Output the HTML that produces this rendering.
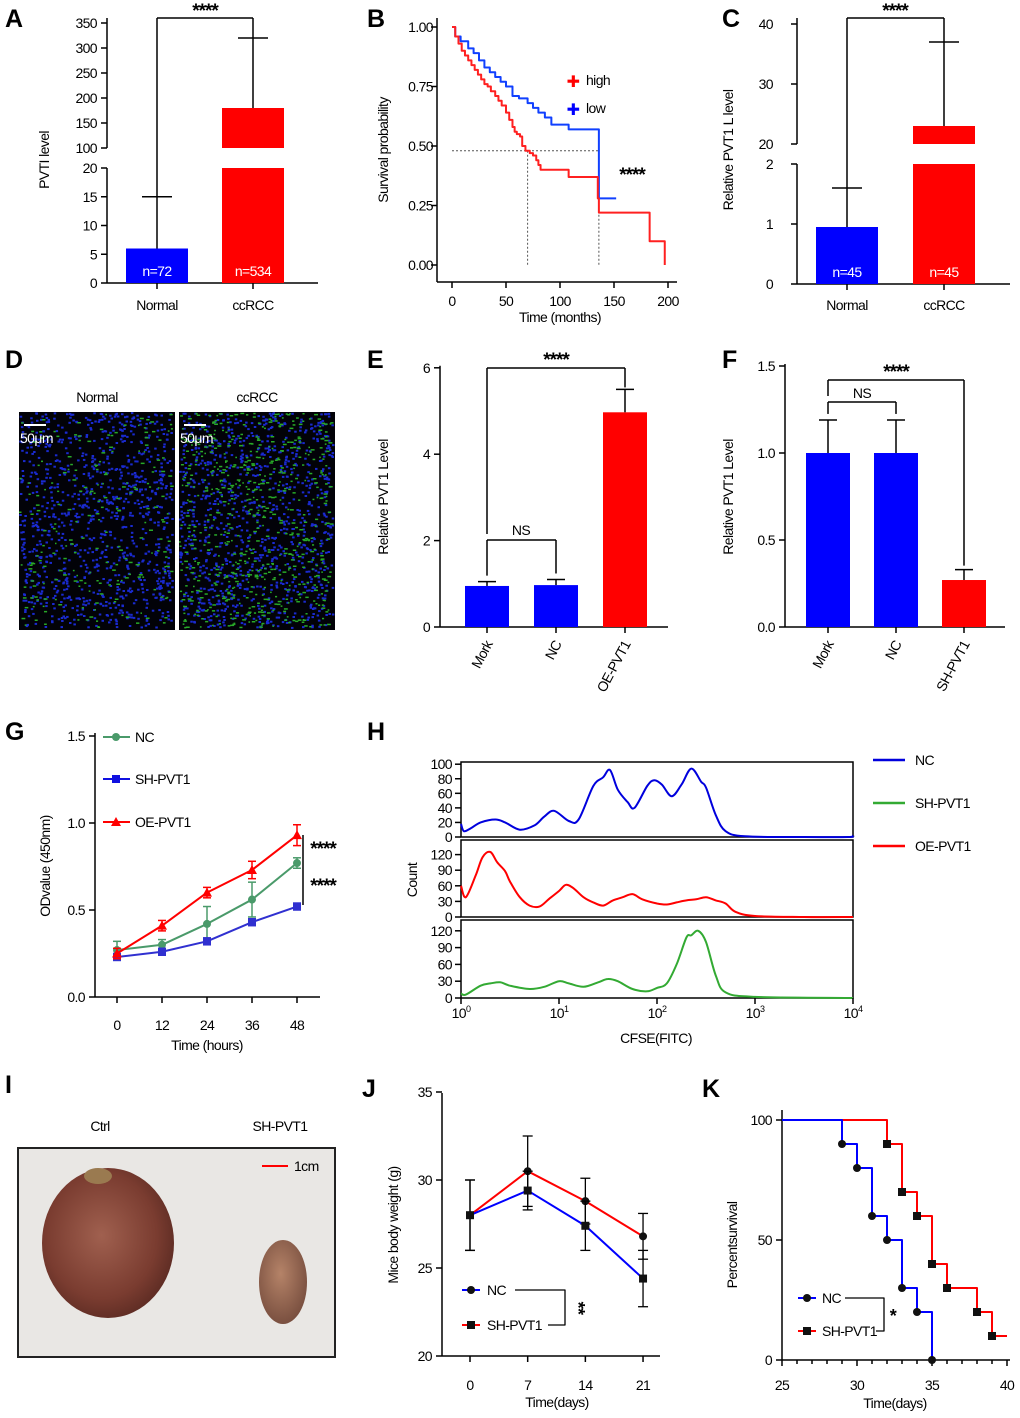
<!DOCTYPE html>
<html><head><meta charset="utf-8">
<style>
html,body{margin:0;padding:0;background:#fff;}
svg{display:block;font-family:"Liberation Sans",Arial,sans-serif;}
</style></head>
<body>
<svg id="fig" xmlns="http://www.w3.org/2000/svg" width="1020" height="1418" viewBox="0 0 1020 1418">
<defs>
<radialGradient id="tum1" cx="0.45" cy="0.45" r="0.6"><stop offset="0" stop-color="#a0604f"/><stop offset="0.7" stop-color="#7a3c30"/><stop offset="1" stop-color="#5a2a22"/></radialGradient>
<radialGradient id="tum2" cx="0.45" cy="0.4" r="0.6"><stop offset="0" stop-color="#b58368"/><stop offset="1" stop-color="#7a5040"/></radialGradient>
</defs>
</svg>
<script>
// ---------- DATA ----------
const aCats = ['Normal','ccRCC'];
const aVals = [6, 180];
const aErr = [15, 320];
const aN = ['n=72','n=534'];

const bHighT = [0,3,6,9,12,15,18,21,24,27,30,33,36,40,43,46,50,53,56,58,60,63,65,68,72,75,78,80,82,108,135,136,183,197];
const bHighS = [1,0.96,0.93,0.90,0.88,0.86,0.84,0.82,0.80,0.78,0.76,0.75,0.73,0.71,0.69,0.67,0.64,0.61,0.58,0.56,0.55,0.54,0.50,0.48,0.47,0.46,0.44,0.42,0.40,0.37,0.28,0.22,0.10,0.0];
const bLowT = [0,3,8,15,20,25,30,35,40,45,50,56,62,70,75,80,86,92,108,136,152];
const bLowS = [1,0.96,0.94,0.91,0.89,0.86,0.83,0.81,0.79,0.77,0.75,0.71,0.70,0.68,0.66,0.64,0.62,0.59,0.57,0.28,0.28];
const bTicksY = [0,0.25,0.5,0.75,1.0];
const bTicksX = [0,50,100,150,200];

const cCats = ['Normal','ccRCC'];
const cVals = [0.95, 23];
const cErr = [1.6, 37];
const cN = ['n=45','n=45'];

const eCats = ['Mork','NC','OE-PVT1'];
const eVals = [0.95, 0.97, 4.97];
const eErr = [1.05, 1.1, 5.5];
const eTicks = [0,2,4,6];

const fCats = ['Mork','NC','SH-PVT1'];
const fVals = [1.0, 1.0, 0.27];
const fErr = [1.19, 1.19, 0.33];
const fTicks = [0,0.5,1.0,1.5];

const gTimes = [0,12,24,36,48];
const gNC = [0.27,0.30,0.42,0.56,0.77];
const gNCe = [0.05,0.03,0.10,0.10,0.03];
const gSH = [0.23,0.26,0.32,0.43,0.52];
const gSHe = [0.02,0.02,0.02,0.02,0.02];
const gOE = [0.25,0.41,0.60,0.73,0.93];
const gOEe = [0.03,0.03,0.03,0.05,0.06];

const hBlueX = [0,0.03,0.1,0.2,0.35,0.45,0.6,0.75,0.85,0.95,1.1,1.2,1.35,1.45,1.52,1.6,1.7,1.77,1.9,1.97,2.05,2.15,2.25,2.35,2.45,2.5,2.6,2.7,2.9,3.5,3.95,4];
const hBlueY = [18,8,12,20,24,20,10,16,28,36,22,24,70,82,92,65,48,40,70,78,72,56,72,94,76,68,30,8,1,0,0,2];
const hRedX = [0,0.05,0.15,0.22,0.3,0.37,0.45,0.5,0.6,0.7,0.8,0.9,1.0,1.07,1.15,1.25,1.35,1.45,1.55,1.65,1.75,1.85,2.0,2.1,2.2,2.3,2.4,2.5,2.6,2.7,2.8,3.0,3.5,4];
const hRedY = [60,38,80,115,125,105,88,68,38,22,20,35,50,62,55,38,28,22,32,38,44,34,26,24,28,32,34,38,32,26,10,2,0,0];
const hGreenX = [0,0.05,0.2,0.3,0.4,0.5,0.7,0.85,1.0,1.1,1.25,1.4,1.5,1.6,1.75,1.9,2.0,2.1,2.2,2.3,2.35,2.42,2.5,2.6,2.7,3.0,4];
const hGreenY = [8,6,22,26,28,22,16,20,30,26,20,28,34,30,16,12,18,26,60,108,112,120,100,40,10,2,0];

const jDays = [0,7,14,21];
const jNC = [28.0,30.5,28.8,26.8];
const jNCe = [2.0,2.0,1.3,1.3];
const jSH = [28.0,29.4,27.4,24.4];
const jSHe = [2.0,1.1,1.4,1.6];

const kNCdays = [25,29,30,31,32,33,34,35];
const kNCsurv = [100,90,80,60,50,30,20,0];
const kSHdays = [25,32,33,34,35,36,38,39,40];
const kSHsurv = [100,90,70,60,40,30,20,10,10];

// ---------- HELPERS ----------
const NS='http://www.w3.org/2000/svg';
const svg=document.getElementById('fig');
function mk(tag, attrs, name){
  const el=document.createElementNS(NS,tag);
  for(const k in attrs) el.setAttribute(k,attrs[k]);
  
  
  svg.appendChild(el);
  return el;
}
function L(x1,y1,x2,y2,name,c,w,dash){
  const a={x1:x1,y1:y1,x2:x2,y2:y2,stroke:c||'#000','stroke-width':w||1.5};
  if(dash) a['stroke-dasharray']=dash;
  return mk('line',a,name);
}
function T(x,y,s,name,o){
  o=o||{};
  const a={x:x,y:y,'font-size':o.size||14,'text-anchor':o.anchor||'middle',fill:o.fill||'#000'};
  if(o.bold) a['font-weight']='bold';
  if(o.rot!==undefined) a.transform='rotate('+o.rot+' '+x+' '+y+')';
  a['letter-spacing']=o.ls!==undefined?o.ls:'-0.6';
  const el=mk('text',a,name);
  el.textContent=s;
  return el;
}
function S(x,y,name,rot){ return T(x,y+5,'****',name,{size:19,bold:true,ls:'-1',rot:rot}); }
function R(x,y,w,h,fill,name){ return mk('rect',{x:x,y:Math.min(y,y+h),width:w,height:Math.abs(h),fill:fill},name); }
function P(d,name,c,w,fill){ return mk('path',{d:d,stroke:c,'stroke-width':w||2,fill:fill||'none','stroke-linejoin':'round'},name); }
function smooth(pts){
  let d='M'+pts[0][0].toFixed(1)+','+pts[0][1].toFixed(1);
  for(let i=0;i<pts.length-1;i++){
    const p0=pts[Math.max(0,i-1)],p1=pts[i],p2=pts[i+1],p3=pts[Math.min(pts.length-1,i+2)];
    const c1=[p1[0]+(p2[0]-p0[0])/6,p1[1]+(p2[1]-p0[1])/6];
    const c2=[p2[0]-(p3[0]-p1[0])/6,p2[1]-(p3[1]-p1[1])/6];
    d+=' C'+c1[0].toFixed(1)+','+c1[1].toFixed(1)+' '+c2[0].toFixed(1)+','+c2[1].toFixed(1)+' '+p2[0].toFixed(1)+','+p2[1].toFixed(1);
  }
  return d;
}
function errBar(cx,yTop,yBase,half,name){
  L(cx,yBase,cx,yTop,name,'#000',1.5);
  L(cx-half,yTop,cx+half,yTop,name+'-cap','#000',1.5);
}

// ---------- PANEL LETTERS ----------
[['A',5,27],['B',367,27],['C',722,27],['D',5,368],['E',367,368],['F',722,368],['G',5,740],['H',367,740],['I',5,1093],['J',362,1097],['K',702,1097]].forEach(p=>{
  T(p[1],p[2],p[0],'panel-label-'+p[0].toLowerCase(),{size:25,bold:true,anchor:'start',ls:0});
});

// ---------- PANEL A ----------
function yA(v){ return v<=20 ? 283 - v*5.75 : 148 - (v-100)*0.5; }
L(107,168,107,283,'a-y-axis-lower');
L(107,18,107,148,'a-y-axis-upper');
L(107,283,318,283,'a-x-axis');
[0,5,10,15,20].forEach(v=>{L(101,yA(v),107,yA(v),'a-y-tick');T(97,yA(v)+5,String(v),'a-y-tick-label',{anchor:'end'});});
[100,150,200,250,300,350].forEach(v=>{L(101,yA(v),107,yA(v),'a-y-tick');T(97,yA(v)+5,String(v),'a-y-tick-label',{anchor:'end'});});
T(49,160,'PVTI level','a-y-axis-title',{rot:-90});
const aX=[157,253];
aCats.forEach((c,i)=>{
  const col=i===0?'#0000ff':'#ff0000';
  const v=aVals[i];
  if(v<=20){ R(aX[i]-31,yA(v),62,yA(0)-yA(v),col,'a-bar-'+c.toLowerCase()); }
  else { R(aX[i]-31,yA(20),62,yA(0)-yA(20),col,'a-bar-'+c.toLowerCase()+'-lower'); R(aX[i]-31,yA(v),62,yA(100)-yA(v),col,'a-bar-'+c.toLowerCase()+'-upper'); }
  errBar(aX[i],yA(aErr[i]),yA(v),15,'a-error-'+c.toLowerCase());
  L(aX[i],283,aX[i],289,'a-x-tick');
  T(aX[i],310,c,'a-x-label');
  T(aX[i],276,aN[i],'a-n-label',{fill:'#fff'});
});
L(157,18,253,18,'a-sig-bracket');L(157,18,157,yA(aErr[0]),'a-sig-left');L(253,18,253,yA(aErr[1]),'a-sig-right');
S(205,12,'a-sig-stars');

// ---------- PANEL B ----------
function xB(t){ return 452 + t*1.08; }
function yB(s){ return 265 - s*238; }
L(437,18,437,282,'b-y-axis');L(437,282,677,282,'b-x-axis');
bTicksY.forEach(v=>{L(431,yB(v),437,yB(v),'b-y-tick');T(433,yB(v)+5,v.toFixed(2),'b-y-tick-label',{anchor:'end'});});
bTicksX.forEach(v=>{L(xB(v),282,xB(v),288,'b-x-tick');T(xB(v),306,String(v),'b-x-tick-label');});
T(560,322,'Time (months)','b-x-axis-title');
T(388,150,'Survival probability','b-y-axis-title',{rot:-90});
L(xB(0),yB(0.48),xB(136),yB(0.48),'b-median-line','#555',1,'2,2');
L(xB(70),yB(0.48),xB(70),yB(0),'b-median-high','#555',1,'2,2');
L(xB(136),yB(0.48),xB(136),yB(0),'b-median-low','#555',1,'2,2');
function km(ts,ss,xf,yf){ let d='M'+xf(ts[0])+','+yf(ss[0]); for(let i=1;i<ts.length;i++){ d+=' H'+xf(ts[i])+' V'+yf(ss[i]); } return d; }
P(km(bLowT,bLowS,xB,yB),'b-curve-low','#1040ff',2);
P(km(bHighT,bHighS,xB,yB),'b-curve-high','#ff2020',2);
T(573,87,'✚','b-legend-high-marker',{fill:'#ff0000',size:16});T(586,85,'high','b-legend-high',{anchor:'start'});
T(573,115,'✚','b-legend-low-marker',{fill:'#0000ff',size:16});T(586,113,'low','b-legend-low',{anchor:'start'});
S(632,176,'b-sig-stars');

// ---------- PANEL C ----------
function yC(v){ return v<=2 ? 284 - v*60 : 144 - (v-20)*6; }
L(797,164,797,284,'c-y-axis-lower');L(797,18,797,144,'c-y-axis-upper');L(797,284,1010,284,'c-x-axis');
[0,1,2].forEach(v=>{L(791,yC(v),797,yC(v),'c-y-tick');T(773,yC(v)+5,String(v),'c-y-tick-label',{anchor:'end'});});
[20,30,40].forEach(v=>{L(791,yC(v),797,yC(v),'c-y-tick');T(773,yC(v)+5,String(v),'c-y-tick-label',{anchor:'end'});});
T(733,150,'Relative PVT1 L level','c-y-axis-title',{rot:-90});
const cX=[847,944];
cCats.forEach((c,i)=>{
  const col=i===0?'#0000ff':'#ff0000';const v=cVals[i];
  if(v<=2){ R(cX[i]-31,yC(v),62,yC(0)-yC(v),col,'c-bar-'+c.toLowerCase()); }
  else { R(cX[i]-31,yC(2),62,yC(0)-yC(2),col,'c-bar-'+c.toLowerCase()+'-lower'); R(cX[i]-31,yC(v),62,yC(20)-yC(v),col,'c-bar-'+c.toLowerCase()+'-upper'); }
  errBar(cX[i],yC(cErr[i]),yC(v),15,'c-error-'+c.toLowerCase());
  L(cX[i],284,cX[i],290,'c-x-tick');
  T(cX[i],310,c,'c-x-label');T(cX[i],277,cN[i],'c-n-label',{fill:'#fff'});
});
L(847,18,944,18,'c-sig-bracket');L(847,18,847,yC(cErr[0]),'c-sig-left');L(944,18,944,yC(cErr[1]),'c-sig-right');
S(895,12,'c-sig-stars');

// ---------- PANEL D ----------
let seed=12345;function rnd(){ seed=(seed*1103515245+12345)%2147483648; return seed/2147483648; }
function micro(x0,y0,w,h,blues,greens,name){
  R(x0,y0,w,h,'#020208',name);
  const g=document.createElementNS(NS,'g');
  
  
  svg.appendChild(g);
  let s='';
  for(let i=0;i<blues;i++){ const x=x0+rnd()*(w-3), y=y0+rnd()*(h-3); s+='<rect x="'+x.toFixed(1)+'" y="'+y.toFixed(1)+'" width="2.5" height="2" fill="#1a2ad0"/>'; }
  for(let i=0;i<greens;i++){ const x=x0+rnd()*(w-4), y=y0+rnd()*(h-3); s+='<rect x="'+x.toFixed(1)+'" y="'+y.toFixed(1)+'" width="'+(1.5+rnd()*2.5).toFixed(1)+'" height="1.5" fill="#28a828"/>'; }
  g.innerHTML=s;
}
micro(19,412,156,218,1000,220,'d-image-normal');
micro(179,412,156,218,1000,650,'d-image-ccrcc');
T(97,402,'Normal','d-title-normal');T(257,402,'ccRCC','d-title-ccrcc');
L(24,425,46,425,'d-scale-bar-normal','#fff',2);T(20,443,'50μm','d-scale-label-normal',{anchor:'start',fill:'#fff'});
L(184,425,206,425,'d-scale-bar-ccrcc','#fff',2);T(180,443,'50μm','d-scale-label-ccrcc',{anchor:'start',fill:'#fff'});

// ---------- PANELS E & F ----------
function barPanel(pfx,cats,vals,errs,ticks,xAxis,y0,ppu,xs,colors,xEnd,decimals){
  const yf=v=>y0-v*ppu;
  L(xAxis,yf(ticks[ticks.length-1])-2,xAxis,y0,pfx+'-y-axis');L(xAxis,y0,xEnd,y0,pfx+'-x-axis');
  ticks.forEach(v=>{L(xAxis-6,yf(v),xAxis,yf(v),pfx+'-y-tick');T(xAxis-10,yf(v)+5,v.toFixed(decimals),pfx+'-y-tick-label',{anchor:'end'});});
  cats.forEach((c,i)=>{
    R(xs[i]-22,yf(vals[i]),44,y0-yf(vals[i]),colors[i],pfx+'-bar-'+c.toLowerCase());
    errBar(xs[i],yf(errs[i]),yf(vals[i]),9,pfx+'-error-'+c.toLowerCase());
    L(xs[i],y0,xs[i],y0+6,pfx+'-x-tick');
    T(xs[i]+6,y0+17,c,pfx+'-x-label',{anchor:'end',rot:-62});
  });
  return yf;
}
const eY=barPanel('e',eCats,eVals,eErr,eTicks,440,627,43.2,[487,556,625],['#0000ff','#0000ff','#ff0000'],668,0);
T(388,497,'Relative PVT1 Level','e-y-axis-title',{rot:-90});
L(487,540,556,540,'e-ns-bracket');L(487,540,487,eY(eErr[0])-6,'e-ns-left');L(556,540,556,eY(eErr[1])-6,'e-ns-right');T(521,535,'NS','e-ns-label');
L(487,368,625,368,'e-sig-bracket');L(487,368,487,534,'e-sig-left');L(625,368,625,eY(eErr[2])-2,'e-sig-right');S(556,361,'e-sig-stars');
const fY=barPanel('f',fCats,fVals,fErr,fTicks,785,627,174,[828,896,964],['#0000ff','#0000ff','#ff0000'],1005,1);
T(733,497,'Relative PVT1 Level','f-y-axis-title',{rot:-90});
L(828,402,896,402,'f-ns-bracket');L(828,402,828,fY(fErr[0])-6,'f-ns-left');L(896,402,896,fY(fErr[1])-6,'f-ns-right');T(862,398,'NS','f-ns-label');
L(828,380,964,380,'f-sig-bracket');L(828,380,828,396,'f-sig-left');L(964,380,964,fY(fErr[2])-4,'f-sig-right');S(896,373,'f-sig-stars');

// ---------- PANEL G ----------
function xG(t){ return 117 + t*3.75; }
function yG(v){ return 997 - v*174; }
L(95,733,95,997,'g-y-axis');L(95,997,320,997,'g-x-axis');
[0,0.5,1.0,1.5].forEach(v=>{L(89,yG(v),95,yG(v),'g-y-tick');T(85,yG(v)+5,v.toFixed(1),'g-y-tick-label',{anchor:'end'});});
gTimes.forEach(t=>{L(xG(t),997,xG(t),1003,'g-x-tick');T(xG(t),1030,String(t),'g-x-tick-label');});
T(207,1050,'Time (hours)','g-x-axis-title');
T(50,866,'ODvalue (450nm)','g-y-axis-title',{rot:-90});
function drawMarker(x,y,m,col,name){
  if(m==='c') mk('circle',{cx:x,cy:y,r:4,fill:col},name);
  else if(m==='s') R(x-4,y-4,8,8,col,name);
  else mk('polygon',{points:(x)+','+(y-5)+' '+(x-5)+','+(y+4)+' '+(x+5)+','+(y+4),fill:col},name);
}
function gSeries(name,vals,errs,col,marker){
  let d='';
  gTimes.forEach((t,i)=>{ d+=(i?' L':'M')+xG(t)+','+yG(vals[i]); });
  P(d,'g-line-'+name,col,2);
  gTimes.forEach((t,i)=>{
    L(xG(t),yG(vals[i]-errs[i]),xG(t),yG(vals[i]+errs[i]),'g-error-'+name,col,1.5);
    L(xG(t)-4,yG(vals[i]+errs[i]),xG(t)+4,yG(vals[i]+errs[i]),'g-error-cap-'+name,col,1.5);
    L(xG(t)-4,yG(vals[i]-errs[i]),xG(t)+4,yG(vals[i]-errs[i]),'g-error-cap-'+name,col,1.5);
    drawMarker(xG(t),yG(vals[i]),marker,col,'g-point-'+name);
  });
}
gSeries('nc',gNC,gNCe,'#4a9a6a','c');
gSeries('sh',gSH,gSHe,'#3030d0','s');
gSeries('oe',gOE,gOEe,'#ff0000','t');
[['NC','#4a9a6a','c',737],['SH-PVT1','#1010e0','s',779],['OE-PVT1','#ff0000','t',822]].forEach(l=>{
  L(103,l[3],130,l[3],'g-legend-line-'+l[0].toLowerCase(),l[1],2);drawMarker(116,l[3],l[2],l[1],'g-legend-marker-'+l[0].toLowerCase());
  T(135,l[3]+5,l[0],'g-legend-label-'+l[0].toLowerCase(),{anchor:'start'});
});
L(303,835,303,905,'g-sig-line');S(323,850,'g-sig-stars-oe');S(323,887,'g-sig-stars-sh');

// ---------- PANEL H ----------
function xH(lx){ return 461 + lx*98; }
const hPanels=[
  {name:'nc',top:762,bot:837,ppu:0.728,ticks:[0,20,40,60,80,100],xs:hBlueX,ys:hBlueY,col:'#0000dd'},
  {name:'oe',top:840,bot:917,ppu:0.52,ticks:[0,30,60,90,120],xs:hRedX,ys:hRedY,col:'#ff0000'},
  {name:'sh',top:920,bot:998,ppu:0.56,ticks:[0,30,60,90,120],xs:hGreenX,ys:hGreenY,col:'#33aa33'}
];
hPanels.forEach(p=>{
  mk('rect',{x:461,y:p.top,width:392,height:p.bot-p.top,fill:'none',stroke:'#000','stroke-width':1.5},'h-frame-'+p.name);
  p.ticks.forEach(v=>{const y=p.bot-v*p.ppu;L(455,y,461,y,'h-y-tick-'+p.name);T(452,y+5,String(v),'h-y-tick-label-'+p.name,{anchor:'end'});});
  const pts=p.xs.map((lx,i)=>[xH(lx),p.bot-p.ys[i]*p.ppu]);
  P(smooth(pts),'h-histogram-'+p.name,p.col,2);
});
[0,1,2,3,4].forEach(e=>{L(xH(e),998,xH(e),1004,'h-x-tick');const t=T(xH(e),1018,'10','h-x-tick-label');const s=document.createElementNS(NS,'tspan');s.setAttribute('dy','-6');s.setAttribute('font-size','9');s.textContent=String(e);t.appendChild(s);});
T(656,1043,'CFSE(FITC)','h-x-axis-title');
T(417,880,'Count','h-y-axis-title',{rot:-90});
[['NC','#0000dd',760],['SH-PVT1','#33aa33',803],['OE-PVT1','#ff0000',846]].forEach(l=>{
  L(873,l[2],905,l[2],'h-legend-line-'+l[0].toLowerCase(),l[1],2.5);T(915,l[2]+5,l[0],'h-legend-label-'+l[0].toLowerCase(),{anchor:'start'});
});

// ---------- PANEL I ----------
mk('rect',{x:18,y:1148,width:317,height:209,fill:'#e9e7e4',stroke:'#222','stroke-width':2},'i-photo');
mk('ellipse',{cx:108,cy:1243,rx:66,ry:75,fill:'url(#tum1)'},'i-tumor-ctrl');
mk('ellipse',{cx:98,cy:1176,rx:14,ry:8,fill:'#9a7a50'},'i-tumor-ctrl-top');
mk('ellipse',{cx:283,cy:1282,rx:24,ry:42,fill:'url(#tum2)'},'i-tumor-sh');
T(100,1131,'Ctrl','i-label-ctrl');T(280,1131,'SH-PVT1','i-label-sh');
L(262,1166,288,1166,'i-scale-bar','#ff0000',2);T(294,1171,'1cm','i-scale-label',{anchor:'start'});

// ---------- PANEL J ----------
function xJ(d){ return 470 + d*8.24; }
function yJ(v){ return 1356 - (v-20)*17.6; }
L(442,1093,442,1356,'j-y-axis');L(442,1356,660,1356,'j-x-axis');
[20,25,30,35].forEach(v=>{L(436,yJ(v),442,yJ(v),'j-y-tick');T(432,yJ(v)+5,String(v),'j-y-tick-label',{anchor:'end'});});
jDays.forEach(d=>{L(xJ(d),1356,xJ(d),1362,'j-x-tick');T(xJ(d),1390,String(d),'j-x-tick-label');});
T(557,1407,'Time(days)','j-x-axis-title');
T(398,1225,'Mice body weight (g)','j-y-axis-title',{rot:-90});
function jSeries(name,vals,errs,col,m){
  let d='';jDays.forEach((t,i)=>{ d+=(i?' L':'M')+xJ(t)+','+yJ(vals[i]); });
  P(d,'j-line-'+name,col,2);
  jDays.forEach((t,i)=>{
    L(xJ(t),yJ(vals[i]-errs[i]),xJ(t),yJ(vals[i]+errs[i]),'j-error-'+name,'#000',1.3);
    L(xJ(t)-5,yJ(vals[i]+errs[i]),xJ(t)+5,yJ(vals[i]+errs[i]),'j-error-cap-'+name,'#000',1.3);
    L(xJ(t)-5,yJ(vals[i]-errs[i]),xJ(t)+5,yJ(vals[i]-errs[i]),'j-error-cap-'+name,'#000',1.3);
    drawMarker(xJ(t),yJ(vals[i]),m,'#111','j-point-'+name);
  });
}
jSeries('nc',jNC,jNCe,'#ff0000','c');
jSeries('sh',jSH,jSHe,'#0000ff','s');
L(462,1290,480,1290,'j-legend-line-nc','#0000ff',2);drawMarker(471,1290,'c','#111','j-legend-marker-nc');T(487,1295,'NC','j-legend-label-nc',{anchor:'start'});
L(462,1325,480,1325,'j-legend-line-sh','#ff0000',2);drawMarker(471,1325,'s','#111','j-legend-marker-sh');T(487,1330,'SH-PVT1','j-legend-label-sh',{anchor:'start'});
P('M515,1290 H565 V1325 H548','j-sig-bracket','#000',1.3);T(572,1308,'**','j-sig-stars',{rot:90,size:18,bold:true});

// ---------- PANEL K ----------
function xK(d){ return 782 + (d-25)*15; }
function yK(v){ return 1360 - v*2.4; }
L(782,1110,782,1360,'k-y-axis');L(782,1360,1010,1360,'k-x-axis');
[0,50,100].forEach(v=>{L(776,yK(v),782,yK(v),'k-y-tick');T(772,yK(v)+5,String(v),'k-y-tick-label',{anchor:'end'});});
for(let d=25;d<=40;d++){ L(xK(d),1360,xK(d),d%5===0?1366:1364,'k-x-tick'); }
[25,30,35,40].forEach(d=>T(xK(d),1390,String(d),'k-x-tick-label'));
T(895,1408,'Time(days)','k-x-axis-title');
T(737,1245,'Percentsurvival','k-y-axis-title',{rot:-90});
P(km(kSHdays,kSHsurv,xK,yK),'k-curve-sh','#ff0000',2);
P(km(kNCdays,kNCsurv,xK,yK),'k-curve-nc','#0000ff',2);
kNCdays.forEach((d,i)=>{ if(i>0) drawMarker(xK(d),yK(kNCsurv[i]),'c','#111','k-point-nc'); });
kSHdays.forEach((d,i)=>{ if(i>0 && i<kSHdays.length-1) drawMarker(xK(d),yK(kSHsurv[i]),'s','#111','k-point-sh'); });
L(798,1298,816,1298,'k-legend-line-nc','#0000ff',2);drawMarker(807,1298,'c','#111','k-legend-marker-nc');T(822,1303,'NC','k-legend-label-nc',{anchor:'start'});
L(798,1331,816,1331,'k-legend-line-sh','#ff0000',2);drawMarker(807,1331,'s','#111','k-legend-marker-sh');T(822,1336,'SH-PVT1','k-legend-label-sh',{anchor:'start'});
P('M845,1298 H884 V1331 H876','k-sig-bracket','#000',1.3);T(893,1322,'*','k-sig-star',{size:18,bold:true});
</script>
</body></html>
